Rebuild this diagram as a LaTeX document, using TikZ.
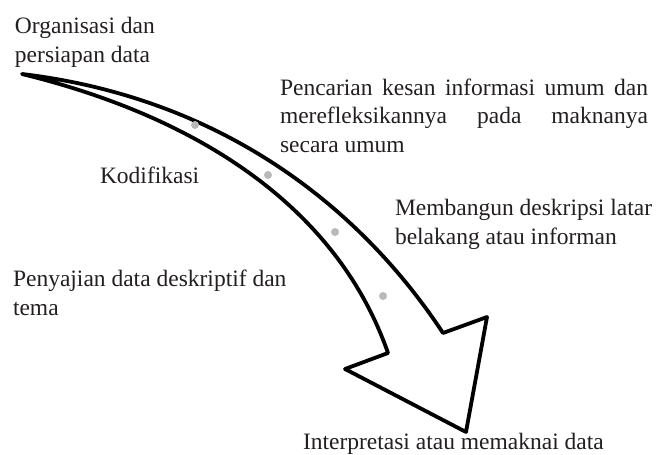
\documentclass[tikz,border=0pt]{standalone}
\usepackage{fontspec}
\setmainfont{Liberation Serif}
\usepackage{tikz}
\usetikzlibrary{positioning}
\definecolor{dotgray}{RGB}{185,185,185}
\definecolor{textgray}{RGB}{35,31,32}
\tikzset{
    steptext/.style = {anchor=base west, inner sep=0pt, outer sep=0pt, text=textgray,
            font=\fontsize{23.5}{28.5}\selectfont, align=left},
    bigarrow/.style = {draw=black, line width=3.8pt, line join=round, fill=white},
    stepdot/.style  = {circle, fill=dotgray, minimum size=8pt, inner sep=0pt},
}

\begin{document}
\begin{tikzpicture}[x=1pt, y=-1pt]
    \useasboundingbox (0,0) rectangle (659,455);

    % curved arrow
    \draw[bigarrow] (22,74) .. controls (222,98) and (360,207) .. (443,333)
        -- (487,317) -- (466,432) -- (345,369) -- (388,353)
        .. controls (340,215) and (210,120) .. (22,74) -- cycle;

    % dots along the arrow
    \node[stepdot] (dotA) at (195,125) {};
    \node[stepdot] (dotB) at (268,175) {};
    \node[stepdot] (dotC) at (335,232) {};
    \node[stepdot] (dotD) at (383,296) {};

    % steps (two-line nodes sit on their last line)
    \node[steptext] (orgData) at (15,62) {Organisasi dan\\persiapan data};
    \node[steptext, text width=368pt, align=justify] (searchInfo) at (280,95)
        {Pencarian kesan informasi umum dan\linebreak
         merefleksikannya pada maknanya\linebreak secara umum};
    \node[steptext] (codify) at (100,183) {Kodifikasi};
    \node[steptext] (buildDesc) at (395,244) {Membangun deskripsi latar\\belakang atau informan};
    \node[steptext] (presentData) at (13,315) {Penyajian data deskriptif dan\\tema};
    \node[steptext] (interpret) at (303,449) {Interpretasi atau memaknai data};
\end{tikzpicture}
\end{document}
